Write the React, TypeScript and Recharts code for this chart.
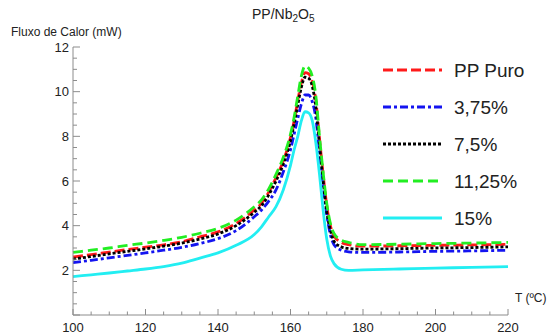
import React from 'react';
import { LineChart, Line, XAxis, YAxis } from 'recharts';

// temperature (ºC) and heat flow (mW)
const temps = [100, 105, 110, 115, 120, 125, 130, 135, 140, 145, 150, 152, 154, 156, 158, 160, 161, 162, 163, 164, 165, 166, 167, 168, 169, 170, 171, 172, 174, 176, 180, 190, 200, 210, 220];
const ppPuro = [2.6, 2.7, 2.82, 2.93, 3.04, 3.14, 3.28, 3.5, 3.72, 4.1, 4.7, 5.0, 5.5, 6.15, 6.9, 7.95, 8.7, 9.6, 10.4, 10.85, 10.8, 10.45, 9.6, 7.9, 6.3, 4.9, 4.0, 3.55, 3.25, 3.15, 3.08, 3.1, 3.12, 3.14, 3.16];
const pct375 = [2.35, 2.45, 2.56, 2.67, 2.78, 2.9, 3.03, 3.2, 3.42, 3.78, 4.4, 4.7, 5.1, 5.6, 6.4, 7.4, 8.1, 8.8, 9.45, 9.85, 9.85, 9.55, 8.8, 7.3, 5.8, 4.5, 3.6, 3.15, 2.9, 2.83, 2.8, 2.82, 2.85, 2.87, 2.9];
const pct75 = [2.5, 2.62, 2.74, 2.85, 2.96, 3.08, 3.22, 3.4, 3.63, 4.0, 4.6, 4.9, 5.38, 6.0, 6.75, 7.8, 8.55, 9.4, 10.2, 10.65, 10.6, 10.25, 9.3, 7.6, 6.0, 4.6, 3.8, 3.3, 3.05, 2.98, 2.95, 2.97, 3.0, 3.02, 3.05];
const pct1125 = [2.8, 2.9, 3.0, 3.12, 3.22, 3.34, 3.48, 3.66, 3.88, 4.25, 4.85, 5.15, 5.65, 6.3, 7.05, 8.1, 8.85, 9.8, 10.7, 11.15, 11.05, 10.7, 9.8, 8.0, 6.4, 5.0, 4.1, 3.65, 3.35, 3.25, 3.15, 3.17, 3.2, 3.22, 3.25];
const pct15 = [1.72, 1.8, 1.88, 1.97, 2.06, 2.17, 2.32, 2.55, 2.78, 3.12, 3.6, 3.95, 4.4, 4.85, 5.6, 6.7, 7.4, 8.0, 8.7, 9.1, 9.05, 8.7, 7.7, 6.3, 4.7, 3.4, 2.65, 2.3, 2.05, 2.0, 2.02, 2.06, 2.1, 2.13, 2.17];

const xTicks = [100, 105, 110, 115, 120, 125, 130, 135, 140, 145, 150, 155, 160, 165, 170, 175, 180, 185, 190, 195, 200, 205, 210, 215, 220];
const yTicks = [0, 0.5, 1, 1.5, 2, 2.5, 3, 3.5, 4, 4.5, 5, 5.5, 6, 6.5, 7, 7.5, 8, 8.5, 9, 9.5, 10, 10.5, 11, 11.5, 12];

const series = [
  { key: 'pp', name: 'PP Puro', values: ppPuro, color: '#ff1a1a', dash: '10 4' },
  { key: 'p375', name: '3,75%', values: pct375, color: '#1414f0', dash: '8 3 3 3' },
  { key: 'p75', name: '7,5%', values: pct75, color: '#000000', dash: '3 2' },
  { key: 'p1125', name: '11,25%', values: pct1125, color: '#22ee22', dash: '10 5' },
  { key: 'p15', name: '15%', values: pct15, color: '#22eef2', dash: undefined },
];

const data = temps.map((t, i) => {
  const row: any = { t };
  series.forEach((s) => (row[s.key] = s.values[i]));
  return row;
});

const font = '"Liberation Sans", Arial, sans-serif';
const axisColor = '#8c8c8c';

const XTick = (props: any) => {
  const { x, y, payload } = props;
  const v = payload.value;
  const major = v % 20 === 0;
  return (
    <g>
      <line x1={x} x2={x} y1={y} y2={y - (major ? 6 : 3.5)} stroke={axisColor} />
      {major && (
        <text x={x} y={y} dy={17} textAnchor="middle" fontSize={13} fill="#222" fontFamily={font}>
          {v}
        </text>
      )}
    </g>
  );
};

const YTick = (props: any) => {
  const { x, y, payload } = props;
  const v = payload.value;
  const major = v % 2 === 0;
  return (
    <g>
      <line x1={x} x2={x + (major ? 7 : 4)} y1={y} y2={y} stroke={axisColor} />
      {major && v > 0 && (
        <text x={x - 4} y={y} dy={4.5} textAnchor="end" fontSize={13} fill="#222" fontFamily={font}>
          {v}
        </text>
      )}
    </g>
  );
};

export default function App() {
  return (
    <div style={{ position: 'absolute', left: 0, top: 0, width: 557, height: 336, background: '#fff' }}>
      <LineChart width={557} height={336} data={data} margin={{ top: 47, right: 49, left: 33, bottom: 1 }}>
        <XAxis
          dataKey="t"
          type="number"
          domain={[100, 220]}
          ticks={xTicks}
          interval={0}
          tickSize={0}
          tickMargin={0}
          tick={<XTick />}
          stroke={axisColor}
          height={20}
        />
        <YAxis
          type="number"
          domain={[0, 12]}
          ticks={yTicks}
          interval={0}
          tickSize={0}
          tickMargin={0}
          tick={<YTick />}
          stroke={axisColor}
          width={40}
        />
        {series.map((s) => (
          <Line
            key={s.key}
            dataKey={s.key}
            type="monotone"
            stroke={s.color}
            strokeWidth={2.8}
            strokeDasharray={s.dash}
            dot={false}
            isAnimationActive={false}
          />
        ))}
      </LineChart>
      <svg width={557} height={336} style={{ position: 'absolute', left: 0, top: 0, pointerEvents: 'none' }}>
        <text x={252} y={19} fontSize={14} fill="#222" fontFamily={font}>
          PP/Nb
          <tspan fontSize={10} dy={3}>2</tspan>
          <tspan dy={-3}>O</tspan>
          <tspan fontSize={10} dy={3}>5</tspan>
        </text>
        <text x={11} y={36} fontSize={12} fill="#222" fontFamily={font}>
          Fluxo de Calor (mW)
        </text>
        <text x={515} y={302} fontSize={12} fill="#222" fontFamily={font}>
          T (ºC)
        </text>
        {series.map((s, i) => {
          const cy = 70 + i * 37;
          return (
            <g key={s.key}>
              <line x1={383} x2={442} y1={cy} y2={cy} stroke={s.color} strokeWidth={3} strokeDasharray={s.dash} />
              <text x={454} y={cy} dy={7} fontSize={19} fill="#222" fontFamily={font}>
                {s.name}
              </text>
            </g>
          );
        })}
      </svg>
    </div>
  );
}
